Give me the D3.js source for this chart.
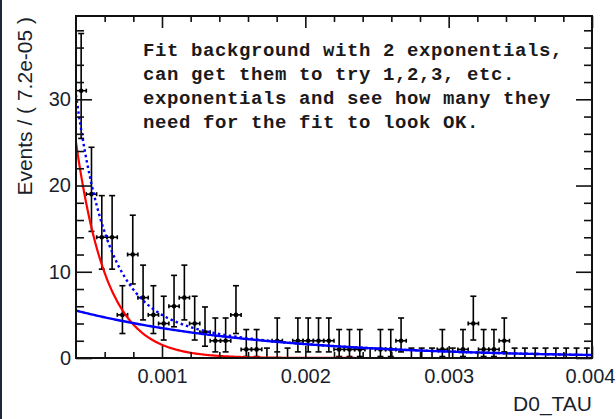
<!DOCTYPE html>
<html>
<head>
<meta charset="utf-8">
<script src="https://cdn.jsdelivr.net/npm/d3@7"></script>
<style>
  html, body { margin: 0; padding: 0; background: #ffffff; }
  svg { display: block; }
</style>
</head>
<body>
<svg id="chart" width="616" height="419"></svg>
<script>
// ---------- data ----------
const binLow = 0.0004;
const binHigh = 0.004;
const binWidth = 7.2e-05;
// event counts per bin (50 bins of 7.2e-05 from 0.0004 to 0.004)
const counts = [31, 19, 14, 14, 5, 12, 7, 5, 4, 6,
                7, 4, 3, 2, 2, 5, 1, 1, 0, 2,
                0, 2, 2, 2, 2, 1, 1, 1, 0, 1,
                1, 2, 0, 0, 0, 1, 0, 1, 4, 1,
                1, 2, 0, 0, 0, 0, 0, 0, 0, 0];
// fitted exponential components: amplitude at x = 0.0004 (events/bin) and decay constant
const fastComponent = [25.0, 0.000215];   // red
const slowComponent = [5.5, 0.00130];     // blue solid
const xMajorTicks = [0.001, 0.002, 0.003, 0.004];
const xTickLabels = ["0.001", "0.002", "0.003", "0.004"];
const yMajorTicks = [0, 10, 20, 30];
const yTickLabels = ["0", "10", "20", "30"];
const yMax = 39.66;
const annotationLines = [
  "Fit background with 2 exponentials,",
  "can get them to try 1,2,3, etc.",
  "exponentials and see how many they",
  "need for the fit to look OK."
];
const xTitle = "D0_TAU";
const yTitle = "Events / ( 7.2e-05 )";

// ---------- layout ----------
const svg = d3.select("#chart");
const L = 76, R = 592, T = 16, B = 358;
const x = d3.scaleLinear().domain([binLow, binHigh]).range([L, R]);
const y = d3.scaleLinear().domain([0, yMax]).range([B, T]);

// left dark edge of the canvas
svg.append("rect").attr("x", 0).attr("y", 0).attr("width", 2).attr("height", 419).attr("fill", "#1c2838");

// Poisson (Garwood) 68% intervals as used by RooFit
function poisCdf(n, mu) {
  let term = Math.exp(-mu), s = term;
  for (let k = 1; k <= n; k++) { term *= mu / k; s += term; }
  return s;
}
function solve(f, lo, hi) {
  for (let i = 0; i < 100; i++) {
    const m = (lo + hi) / 2;
    if (f(m) > 0) lo = m; else hi = m;
  }
  return (lo + hi) / 2;
}
const alpha = 0.158655;
function poisInterval(n) {
  if (n === 0) return [0, -Math.log(1 - 0.682689)];
  const up = solve(mu => poisCdf(n, mu) - alpha, n, n + 20 + 5 * Math.sqrt(n));
  const lo = solve(mu => (1 - poisCdf(n - 1, mu)) - alpha > 0 ? -1 : 1, 0, n);
  return [lo, up];
}

const data = counts.map((c, i) => {
  const xc = binLow + (i + 0.5) * binWidth;
  const [lo, up] = poisInterval(c);
  return { xc, x0: binLow + i * binWidth, x1: binLow + (i + 1) * binWidth, c, lo, up };
});

const clipId = "plotclip";
svg.append("clipPath").attr("id", clipId).append("rect")
  .attr("x", L).attr("y", T).attr("width", R - L).attr("height", B - T);

// ---------- data points ----------
const gData = svg.append("g").attr("stroke", "#000").attr("stroke-width", 1.6).attr("fill", "none");
const cap = 3;
data.forEach(d => {
  const cx = x(d.xc), cy = y(d.c);
  gData.append("line").attr("x1", cx).attr("x2", cx).attr("y1", y(d.lo)).attr("y2", y(d.up));
  gData.append("line").attr("x1", cx - cap).attr("x2", cx + cap).attr("y1", y(d.up)).attr("y2", y(d.up));
  gData.append("line").attr("x1", cx - cap).attr("x2", cx + cap).attr("y1", y(d.lo)).attr("y2", y(d.lo));
  if (d.c > 0) {
    gData.append("line").attr("x1", x(d.x0)).attr("x2", x(d.x1)).attr("y1", cy).attr("y2", cy);
    gData.append("line").attr("x1", x(d.x0)).attr("x2", x(d.x0)).attr("y1", cy - 2).attr("y2", cy + 2);
    gData.append("line").attr("x1", x(d.x1)).attr("x2", x(d.x1)).attr("y1", cy - 2).attr("y2", cy + 2);
    gData.append("circle").attr("cx", cx).attr("cy", cy).attr("r", 2.3).attr("fill", "#000").attr("stroke", "none");
  }
});

// ---------- fit curves ----------
const nSamp = 400;
const xs = d3.range(nSamp + 1).map(k => binLow + (binHigh - binLow) * k / nSamp);
const expo = (p, t) => p[0] * Math.exp(-(t - binLow) / p[1]);
const line = d3.line().x(d => x(d[0])).y(d => y(d[1])).curve(d3.curveLinear);
const gCurves = svg.append("g").attr("clip-path", `url(#${clipId})`).attr("fill", "none");
gCurves.append("path")
  .attr("d", line(xs.map(t => [t, expo(fastComponent, t)])))
  .attr("stroke", "#ff0000").attr("stroke-width", 2.2);
gCurves.append("path")
  .attr("d", line(xs.map(t => [t, expo(slowComponent, t)])))
  .attr("stroke", "#0000ff").attr("stroke-width", 2.4);
gCurves.append("path")
  .attr("d", line(xs.map(t => [t, expo(fastComponent, t) + expo(slowComponent, t)])))
  .attr("stroke", "#0000ff").attr("stroke-width", 2.4)
  .attr("stroke-dasharray", "2.5,3");

// ---------- axes ----------
const font = "'Liberation Sans', Arial, Helvetica, sans-serif";
const xMinor = d3.range(0.0006, 0.00399, 0.0002).filter(v => !xMajorTicks.some(m => Math.abs(m - v) < 1e-9));
const yMinor = d3.range(2, yMax, 2).filter(v => v % 10 !== 0);

function styleAxis(g) {
  g.select(".domain").remove();
  g.selectAll(".tick line").attr("stroke", "#111").attr("stroke-width", 1.6);
  g.selectAll(".tick text").attr("font-family", font).attr("font-size", 20).attr("fill", "#1a1f2e");
}

// bottom
const gBottom = svg.append("g").attr("transform", `translate(0,${B})`)
  .call(d3.axisBottom(x).tickValues(xMajorTicks).tickFormat((d, i) => xTickLabels[i]).tickSize(-12).tickPadding(11))
  .call(styleAxis);
// keep the last label inside the canvas
gBottom.selectAll(".tick text").filter(d => d === binHigh).attr("text-anchor", "end").attr("dx", 23);
svg.append("g").attr("transform", `translate(0,${B})`)
  .call(d3.axisBottom(x).tickValues(xMinor).tickFormat("").tickSize(-6))
  .call(styleAxis);
// top
svg.append("g").attr("transform", `translate(0,${T})`)
  .call(d3.axisTop(x).tickValues(xMajorTicks).tickFormat("").tickSize(-12))
  .call(styleAxis);
svg.append("g").attr("transform", `translate(0,${T})`)
  .call(d3.axisTop(x).tickValues(xMinor).tickFormat("").tickSize(-6))
  .call(styleAxis);
// left
svg.append("g").attr("transform", `translate(${L},0)`)
  .call(d3.axisLeft(y).tickValues(yMajorTicks).tickFormat((d, i) => yTickLabels[i]).tickSize(-16).tickPadding(5))
  .call(styleAxis);
svg.append("g").attr("transform", `translate(${L},0)`)
  .call(d3.axisLeft(y).tickValues(yMinor).tickFormat("").tickSize(-8))
  .call(styleAxis);
// right
svg.append("g").attr("transform", `translate(${R},0)`)
  .call(d3.axisRight(y).tickValues(yMajorTicks).tickFormat("").tickSize(-16))
  .call(styleAxis);
svg.append("g").attr("transform", `translate(${R},0)`)
  .call(d3.axisRight(y).tickValues(yMinor).tickFormat("").tickSize(-8))
  .call(styleAxis);

// frame
svg.append("rect").attr("x", L).attr("y", T).attr("width", R - L).attr("height", B - T)
  .attr("fill", "none").attr("stroke", "#111").attr("stroke-width", 2);

// titles
svg.append("text").attr("x", R).attr("y", 411).attr("text-anchor", "end")
  .attr("font-family", font).attr("font-size", 21).attr("fill", "#1a1f2e").text(xTitle);
svg.append("text").attr("transform", `translate(32,17) rotate(-90)`).attr("text-anchor", "end")
  .attr("font-family", font).attr("font-size", 21).attr("fill", "#1a1f2e").text(yTitle);

// annotation
const ann = svg.append("text").attr("font-family", "'Courier New', 'Liberation Mono', monospace")
  .attr("font-weight", "bold").attr("font-size", 19).attr("letter-spacing", 0.6).attr("fill", "#1a1a1a");
annotationLines.forEach((s, i) => {
  ann.append("tspan").attr("x", 143).attr("y", 55.7 + i * 24.2).attr("xml:space", "preserve").text(s);
});
</script>
</body>
</html>
